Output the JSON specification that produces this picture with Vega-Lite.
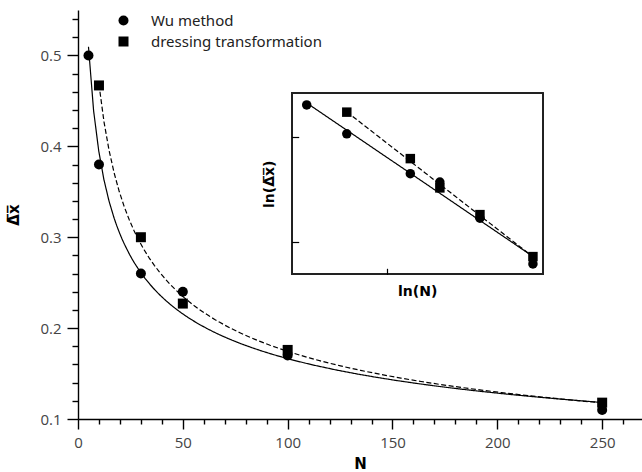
{
  "$schema": "https://vega.github.io/schema/vega-lite/v6.json",
  "width": 564,
  "height": 409,
  "autosize": {"type": "none"},
  "padding": {"left": 78, "top": 10, "right": 0, "bottom": 53},
  "background": "white",
  "config": {
    "view": {"stroke": null},
    "font": "Open Sans"
  },
  "datasets": {
    "d": [
      {"N": 5, "dx": 0.5, "series": "Wu method"},
      {"N": 10, "dx": 0.38, "series": "Wu method"},
      {"N": 30, "dx": 0.26, "series": "Wu method"},
      {"N": 50, "dx": 0.24, "series": "Wu method"},
      {"N": 100, "dx": 0.17, "series": "Wu method"},
      {"N": 250, "dx": 0.11, "series": "Wu method"},
      {"N": 10, "dx": 0.467, "series": "dressing transformation"},
      {"N": 30, "dx": 0.3, "series": "dressing transformation"},
      {"N": 50, "dx": 0.227, "series": "dressing transformation"},
      {"N": 100, "dx": 0.176, "series": "dressing transformation"},
      {"N": 250, "dx": 0.118, "series": "dressing transformation"}
    ]
  },
  "data": {"name": "d"},
  "layer": [
    {
      "encoding": {
        "x": {
          "field": "N", "type": "quantitative",
          "scale": {"domain": [0, 269], "nice": false, "zero": false},
          "axis": {
            "orient": "bottom",
            "title": "N",
            "titleFont": "DejaVu Sans",
            "titleFontSize": 15,
            "titleFontWeight": "bold",
            "titleColor": "black",
            "titlePadding": 6,
            "values": [0,10,20,30,40,50,60,70,80,90,100,110,120,130,140,150,160,170,180,190,200,210,220,230,240,250,260],
            "labelExpr": "datum.value % 50 === 0 ? datum.label : ''",
            "labelFontSize": 15,
            "labelColor": "#444444",
            "labelPadding": 6,
            "labelFlush": false,
            "labelOverlap": false,
            "tickSize": {"condition": {"test": "datum.value % 50 === 0", "value": 10}, "value": 5},
            "tickColor": "black",
            "tickWidth": 1.4,
            "domainColor": "black",
            "domainWidth": 1.4,
            "grid": false
          }
        },
        "y": {
          "field": "dx", "type": "quantitative",
          "scale": {"domain": [0.1, 0.55], "nice": false, "zero": false},
          "axis": {
            "orient": "left",
            "title": "Δ̅x̅",
            "titleFont": "DejaVu Sans",
            "titleFontSize": 15,
            "titleFontWeight": "bold",
            "titleColor": "black",
            "titlePadding": 18,
            "values": [0.1,0.12,0.14,0.16,0.18,0.2,0.22,0.24,0.26,0.28,0.3,0.32,0.34,0.36,0.38,0.4,0.42,0.44,0.46,0.48,0.5,0.52,0.54],
            "labelExpr": "abs(datum.value*10 - round(datum.value*10)) < 0.001 ? format(datum.value, '.1f') : ''",
            "labelFontSize": 15,
            "labelColor": "#444444",
            "labelPadding": 6,
            "labelFlush": false,
            "labelOverlap": false,
            "tickSize": {"condition": {"test": "abs(datum.value*10 - round(datum.value*10)) < 0.001", "value": 11}, "value": 6},
            "tickColor": "black",
            "tickWidth": 1.4,
            "domainColor": "black",
            "domainWidth": 1.4,
            "grid": false
          }
        }
      },
      "layer": [
        {
          "transform": [{"regression": "dx", "on": "N", "method": "pow", "groupby": ["series"]}],
          "mark": {"type": "line", "color": "black", "strokeWidth": 1.2},
          "encoding": {
            "strokeDash": {"field": "series", "type": "nominal", "legend": null,
              "scale": {"domain": ["Wu method", "dressing transformation"], "range": [[1, 0], [5, 2.5]]}}
          }
        },
        {
          "mark": {"type": "point", "filled": true, "color": "black", "opacity": 1, "size": 100},
          "encoding": {
            "shape": {
              "field": "series", "type": "nominal",
              "scale": {"domain": ["Wu method", "dressing transformation"], "range": ["circle", "square"]},
              "legend": {
                "orient": "none",
                "legendX": 38,
                "legendY": 3,
                "title": null,
                "symbolSize": 100,
                "symbolFillColor": "black",
                "symbolStrokeColor": "black",
                "symbolOpacity": 1,
                "labelFont": "Noto Sans",
                "labelFontSize": 15,
                "labelColor": "#222222",
                "labelOffset": 20,
                "labelLimit": 0,
                "rowPadding": 4,
                "padding": 0
              }
            }
          }
        }
      ]
    },
    {
      "encoding": {
        "x": {
          "field": "N", "type": "quantitative",
          "scale": {"type": "log", "domain": [3.857, 296.0], "range": [213.7, 464.7], "nice": false},
          "axis": {
            "orient": "bottom",
            "offset": -144.7,
            "title": "ln(N)",
            "titleFont": "DejaVu Sans",
            "titleFontSize": 14,
            "titleFontWeight": "bold",
            "titleColor": "black",
            "titlePadding": 10,
            "values": [20.0855],
            "labels": false,
            "tickSize": -6,
            "tickColor": "black",
            "tickWidth": 1.2,
            "domain": false,
            "grid": false,
            "zindex": 1
          }
        },
        "y": {
          "field": "dx", "type": "quantitative",
          "scale": {"type": "log", "domain": [0.0997, 0.5588], "range": [264.3, 83.3], "nice": false},
          "axis": {
            "orient": "left",
            "offset": -213.7,
            "title": "ln(Δ̅x̅)",
            "titleFont": "DejaVu Sans",
            "titleFontSize": 14,
            "titleFontWeight": "bold",
            "titleColor": "black",
            "titlePadding": 15,
            "values": [0.36788, 0.13534],
            "labels": false,
            "tickSize": -7,
            "tickColor": "black",
            "tickWidth": 1.2,
            "domain": false,
            "grid": false,
            "zindex": 1
          }
        }
      },
      "layer": [
        {
          "mark": {"type": "rect", "fill": null, "stroke": "#222222", "strokeWidth": 1.4},
          "encoding": {
            "x": {"datum": 3.857, "type": "quantitative"},
            "x2": {"datum": 296.0},
            "y": {"datum": 0.0997, "type": "quantitative"},
            "y2": {"datum": 0.5588}
          }
        },
        {
          "transform": [{"regression": "dx", "on": "N", "method": "pow", "groupby": ["series"]}],
          "mark": {"type": "line", "color": "black", "strokeWidth": 1.2},
          "encoding": {
            "strokeDash": {"field": "series", "type": "nominal", "legend": null}
          }
        },
        {
          "mark": {"type": "point", "filled": true, "color": "black", "opacity": 1, "size": 90},
          "encoding": {
            "shape": {"field": "series", "type": "nominal", "legend": null}
          }
        }
      ]
    }
  ],
  "resolve": {
    "scale": {"x": "independent", "y": "independent"},
    "axis": {"x": "independent", "y": "independent"},
    "legend": {"shape": "independent"}
  }
}
